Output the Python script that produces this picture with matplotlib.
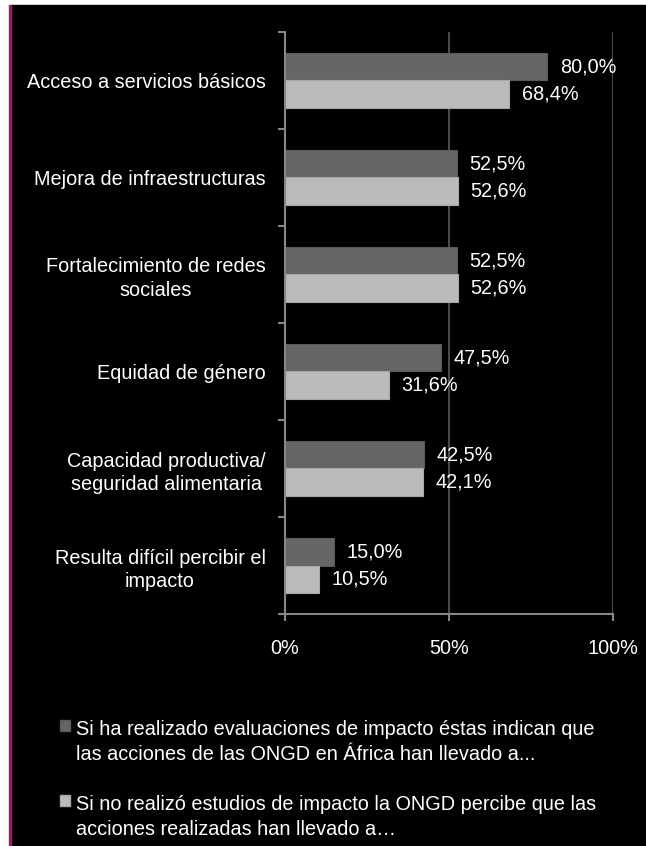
import matplotlib
matplotlib.use('Agg')
import matplotlib.pyplot as plt
from matplotlib.patches import Rectangle, Patch
from matplotlib.legend_handler import HandlerPatch
import numpy as np

plt.rcParams['font.family'] = ['Liberation Sans', 'DejaVu Sans']

categorias = ['Acceso a servicios básicos',
              'Mejora de infraestructuras',
              'Fortalecimiento de redes\nsociales',
              'Equidad de género',
              'Capacidad productiva/\nseguridad alimentaria',
              'Resulta difícil percibir el\nimpacto']
con_evaluacion = [80.0, 52.5, 52.5, 47.5, 42.5, 15.0]
sin_estudios = [68.4, 52.6, 52.6, 31.6, 42.1, 10.5]
leyenda = ['Si ha realizado evaluaciones de impacto éstas indican que\n'
           'las acciones de las ONGD en África han llevado a...',
           'Si no realizó estudios de impacto la ONGD percibe que las\n'
           'acciones realizadas han llevado a…']
ticks_x = [0, 50, 100]
ticks_x_txt = ['0%', '50%', '100%']

oscuro = '#666666'
claro = '#bbbbbb'
W, H = 646, 846
fs = 14.3

fig = plt.figure(figsize=(W / 100, H / 100), dpi=100, facecolor='white')
# fondo negro y borde
fig.patches.append(Rectangle((10 / W, 0), 1 - 10 / W, 1 - 5 / H,
                             transform=fig.transFigure, color='black', zorder=-3))
fig.patches.append(Rectangle((9 / W, 0), 1.5 / W, 1 - 5 / H,
                             transform=fig.transFigure, color='#a0186a', zorder=-2))

ax = fig.add_axes([285 / W, 1 - 614 / H, 328 / W, 582 / H])
ax.set_facecolor('none')

y = np.arange(len(categorias))
h = 0.285
b1 = ax.barh(y - h / 2, con_evaluacion, height=h, color=oscuro,
             edgecolor='#5a5a5a', linewidth=0.8, zorder=3)
b2 = ax.barh(y + h / 2, sin_estudios, height=h, color=claro,
             edgecolor='#a8a8a8', linewidth=0.8, zorder=3)

for bars, vals in ((b1, con_evaluacion), (b2, sin_estudios)):
    for r, v in zip(bars, vals):
        ax.annotate(f'{v:.1f}'.replace('.', ',') + '%',
                    (r.get_width(), r.get_y() + r.get_height() / 2),
                    xytext=(9, 0), textcoords='offset points',
                    ha='left', va='center', color='white', fontsize=fs)

ax.set_xlim(0, 100)
ax.set_ylim(len(categorias) - 0.5, -0.5)

ax.set_xticks(ticks_x)
ax.set_xticklabels(ticks_x_txt)
ax.set_yticks(np.arange(-0.5, len(categorias)), minor=False)
ax.set_yticklabels([])
ax.set_yticks(y, minor=True)
ax.set_yticklabels(categorias, minor=True, multialignment='center',
                   linespacing=1.3)

ax.tick_params(axis='y', which='major', direction='out', length=5,
               width=1.5, color='#868686')
ax.tick_params(axis='y', which='minor', length=0, pad=14,
               labelcolor='white', labelsize=fs)
ax.tick_params(axis='x', direction='out', length=5, width=1.5,
               color='#868686', pad=13, labelcolor='white', labelsize=fs)

ax.xaxis.grid(True, color='#4a4a4a', linewidth=1.5, zorder=1)
ax.set_axisbelow(True)
for s in ('top', 'right'):
    ax.spines[s].set_visible(False)
for s in ('left', 'bottom'):
    ax.spines[s].set_color('#868686')
    ax.spines[s].set_linewidth(1.5)
    ax.spines[s].set_zorder(4)


def cuadro_arriba(legend, orig_handle, xdescent, ydescent, width, height, fontsize):
    # cuadro alineado con la primera línea del texto
    return Rectangle((-xdescent, -ydescent + 0.85 * fontsize), width, height)


handles = [Patch(facecolor=oscuro, edgecolor='#5a5a5a'),
           Patch(facecolor=claro, edgecolor='#a8a8a8')]
leg = fig.legend(handles, leyenda, loc='upper left',
                 bbox_to_anchor=(60 / W, 1 - 720 / H), frameon=False,
                 fontsize=fs, labelcolor='white', handlelength=0.5,
                 handleheight=0.5, handletextpad=0.3, labelspacing=1.55,
                 borderpad=0, borderaxespad=0,
                 handler_map={Patch: HandlerPatch(patch_func=cuadro_arriba)})
for t in leg.get_texts():
    t.set_linespacing(1.4)

fig.savefig('out.png', dpi=100, facecolor=fig.get_facecolor())
